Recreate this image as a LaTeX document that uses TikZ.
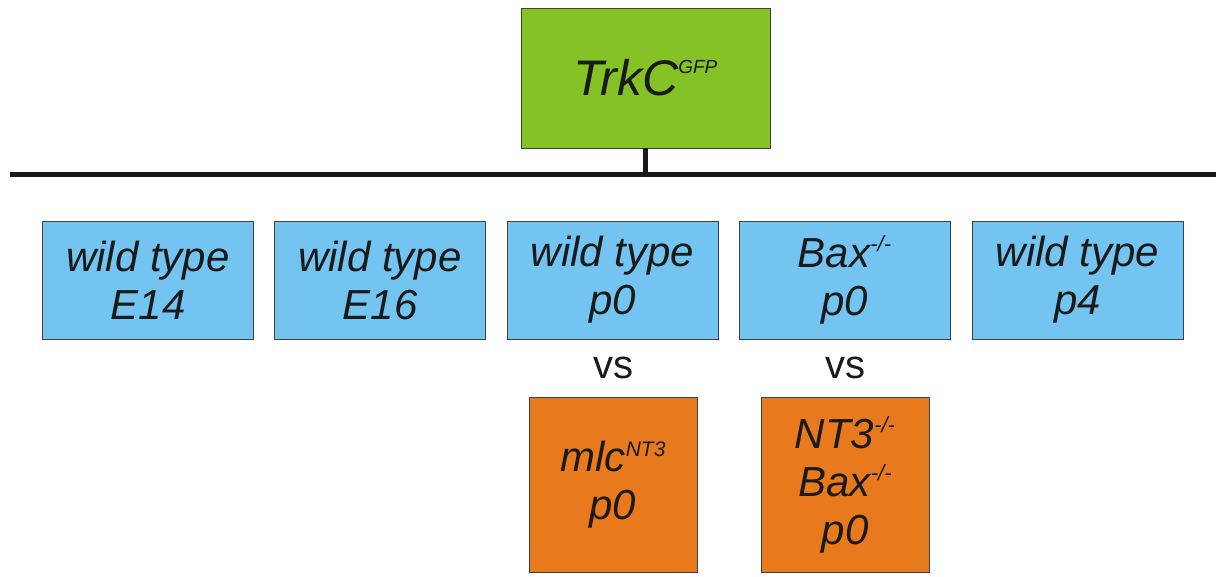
\documentclass[tikz,border=0pt]{standalone}
\usepackage{fontspec}
\setmainfont{Liberation Sans}
\definecolor{mgreen}{HTML}{85C226}
\definecolor{mblue}{HTML}{73C4F1}
\definecolor{morange}{HTML}{E8791C}
\definecolor{mink}{HTML}{1A1A1A}
\newcommand{\supx}[3]{\raisebox{#1}{\fontsize{#2}{#2}\selectfont #3}}

\begin{document}
\begin{tikzpicture}[x=1pt, y=-1pt,
    box/.style={draw=black!75, line width=0.9pt, inner sep=0pt, align=center,
      text=mink, font=\fontsize{42}{48}\selectfont\itshape},
    geno/.style={box, fill=mblue, minimum width=211pt, minimum height=118pt},
    ko/.style={box, fill=morange, minimum width=168pt, minimum height=175pt},
    bar/.style={line width=5pt, black!90}]

    \useasboundingbox (0,0) rectangle (1216,577);

    \node[box, fill=mgreen, minimum width=249pt, minimum height=140pt,
      font=\fontsize{50}{56}\selectfont\itshape] (trkc) at (645.5,78) {TrkC\supx{22pt}{19}{GFP}};

    \coordinate (bl) at (10,175);
    \coordinate (br) at (1216,175);
    \draw[bar] (bl) -- (br);
    \draw[bar] (trkc.south) -- (trkc.south |- bl);

    \foreach \x/\txt [count=\i] in {148/{wild type\\E14}, 380/{wild type\\E16},
        612.5/{wild type\\p0}, 844.5/{Bax\supx{16pt}{22}{-/-}\\p0}, 1077.5/{wild type\\p4}}
      \node[geno] (g\i) at (\x,280) {\txt};

    \node[font=\fontsize{40}{40}\selectfont, text=mink, anchor=base] (vs1) at (613,378) {vs};
    \node[font=\fontsize{40}{40}\selectfont, text=mink, anchor=base] (vs2) at (845,378) {vs};

    \node[ko] (m1) at (613,484.5) {mlc\supx{15pt}{21}{NT3}\\p0};
    \node[ko] (m2) at (845,484.5) {NT3\supx{16pt}{22}{-/-}\\Bax\supx{16pt}{22}{-/-}\\p0};

\end{tikzpicture}
\end{document}
